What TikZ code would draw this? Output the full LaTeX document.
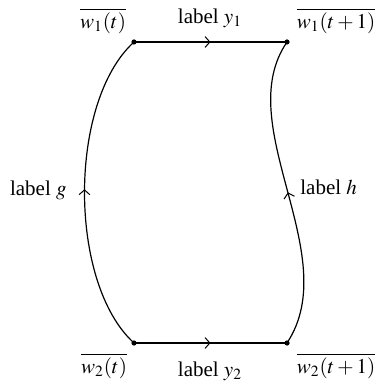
\documentclass[tikz,border=0pt]{standalone}
\usepackage{mathptmx}
\usepackage[no-math]{fontspec}
\setmainfont{Liberation Serif}
\usetikzlibrary{decorations.markings,arrows.meta}
\tikzset{
  pt/.style={circle,fill,inner sep=0pt,minimum size=2.6pt},
  edge/.style={line width=0.6pt,postaction={decorate},decoration={markings,mark=at position #1 with {\arrow{Straight Barb[length=2.4pt,width=5.4pt,line width=0.5pt]}}}},
  lab/.style={inner sep=0pt,font=\fontsize{10.5}{12}\selectfont}
}
\begin{document}
\begin{tikzpicture}[x=0.5pt,y=-0.5pt]
\useasboundingbox (0,0) rectangle (379,383);
\node[pt] (a) at (134,42) {};
\node[pt] (b) at (287,42) {};
\node[pt] (c) at (134,343) {};
\node[pt] (d) at (287,343) {};
\draw[edge=0.5] (a.center) -- (b.center);
\draw[edge=0.5] (c.center) -- (d.center);
\draw[edge=0.51] (c.center) .. controls (68,283) and (68,102) .. (a.center);
\draw[edge=0.5] (d.center) .. controls (345,255) and (230,125) .. (b.center);
\node[lab] (l1) at (103,21) {$\overline{w_1(t)}$};
\node[lab] (l2) at (336,21) {$\overline{w_1(t+1)}$};
\node[lab] (l3) at (104,366) {$\overline{w_2(t)}$};
\node[lab] (l4) at (336,366) {$\overline{w_2(t+1)}$};
\node[lab] (ly1) at (210,18) {label $y_1$};
\node[lab] (ly2) at (210,371) {label $y_2$};
\node[lab,anchor=east] (lg) at (67,190) {label $g$};
\node[lab,anchor=west] (lh) at (300,187) {label $h$};
\end{tikzpicture}
\end{document}
